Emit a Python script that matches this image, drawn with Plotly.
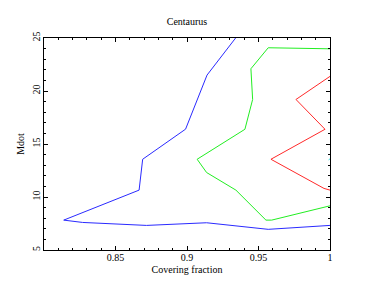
import plotly.graph_objects as go

# Contour lines (covering fraction vs Mdot)
blue_x = [0.934, 0.914, 0.899, 0.869, 0.8665, 0.8273, 0.8138, 0.827, 0.8717, 0.9137, 0.9568, 1.0]
blue_y = [25.0, 21.5, 16.4, 13.56, 10.65, 8.51, 7.82, 7.6, 7.32, 7.57, 6.95, 7.32]

green_x = [1.0, 0.9568, 0.9447, 0.9459, 0.9405, 0.9071, 0.9137, 0.9342, 0.9552, 0.9592, 1.0]
green_y = [23.98, 24.08, 22.1, 19.2, 16.39, 13.56, 12.31, 10.65, 7.82, 7.82, 9.17]

red_x = [1.0, 0.9762, 0.9965, 0.9587, 0.9958, 1.0]
red_y = [21.38, 19.2, 16.39, 13.56, 10.81, 10.65]

cyan_x = [0.9990, 1.0]
cyan_y = [13.5, 13.6]

x_ticks = [0.85, 0.9, 0.95, 1.0]
x_labels = ["0.85", "0.9", "0.95", "1"]
y_ticks = [5, 10, 15, 20, 25]

font = "Liberation Serif, Times New Roman, serif"

fig = go.Figure()
for xs, ys, c in [(blue_x, blue_y, "#2a2aff"), (green_x, green_y, "#22ee22"),
                  (red_x, red_y, "#ff2a2a"), (cyan_x, cyan_y, "#33dddd")]:
    fig.add_trace(go.Scatter(x=xs, y=ys, mode="lines",
                             line=dict(color=c, width=1), showlegend=False,
                             hoverinfo="skip"))

axis_common = dict(showgrid=False, zeroline=False, showline=True, linecolor="black",
                   linewidth=1, mirror="ticks", ticks="inside", ticklen=4,
                   tickcolor="black", tickwidth=1,
                   tickfont=dict(family=font, size=10, color="black"))

fig.update_xaxes(range=[0.8, 1.0], tickvals=x_ticks, ticktext=x_labels,
                 ticklabelstandoff=-2,
                 minor=dict(dtick=0.01, ticks="inside", ticklen=2, tickcolor="black"),
                 title=dict(text="Covering fraction", font=dict(family=font, size=10, color="black"),
                            standoff=3),
                 **axis_common)
fig.update_yaxes(range=[5, 25], tickvals=y_ticks, tickangle=-90,
                 ticklabelstandoff=-1,
                 minor=dict(dtick=1, ticks="inside", ticklen=2, tickcolor="black"),
                 title=dict(text="Mdot", font=dict(family=font, size=10, color="black"),
                            standoff=4),
                 **axis_common)

fig.update_layout(width=374, height=289,
                  margin=dict(l=36, r=52, t=30, b=47),
                  paper_bgcolor="white", plot_bgcolor="white",
                  title=dict(text="Centaurus", x=0.5, xanchor="center",
                             xref="paper", yref="paper", y=1, yanchor="bottom",
                             pad=dict(b=13),
                             font=dict(family=font, size=10, color="black")))

fig.write_html("out.html")
